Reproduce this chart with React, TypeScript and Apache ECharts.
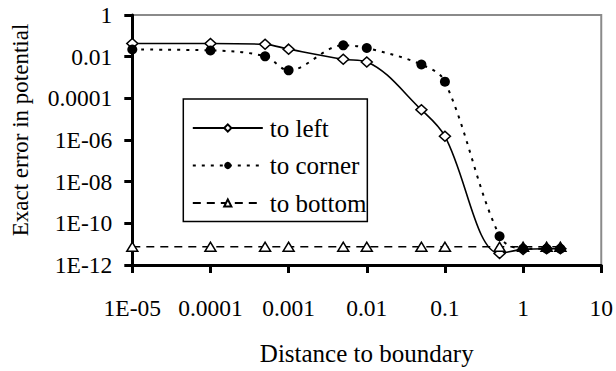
import React, { useEffect, useRef } from "react";
import * as echarts from "echarts";

// Distance from the boundary (x) at which the potential error was sampled
const distances = [1e-5, 1e-4, 5e-4, 1e-3, 5e-3, 1e-2, 5e-2, 0.1, 0.5, 1, 2, 3];

// Exact error in potential for each direction of approach
const toLeft = [0.043, 0.043, 0.039, 0.023, 0.0075, 0.0056, 2.8e-5, 1.5e-6, 3.6e-12, 5.6e-12, 6e-12, 6e-12];
const toCorner = [0.022, 0.02, 0.0104, 0.0022, 0.035, 0.026, 0.0042, 6.3e-4, 2.4e-11, 6e-12, 6e-12, 6e-12];
const toBottom = [7.5e-12, 7.5e-12, 7.5e-12, 7.5e-12, 7.5e-12, 7.5e-12, 7.5e-12, 7.5e-12, 7.5e-12, 7.5e-12, 7.5e-12, 7.5e-12];

const seriesNames = ["to left", "to corner", "to bottom"];

// Tick positions and their labels
const xTickValues = [1e-5, 1e-4, 1e-3, 1e-2, 0.1, 1, 10];
const xTickLabels = ["1E-05", "0.0001", "0.001", "0.01", "0.1", "1", "10"];
const yTickValues = [1, 1e-2, 1e-4, 1e-6, 1e-8, 1e-10, 1e-12];
const yTickLabels = ["1", "0.01", "0.0001", "1E-06", "1E-08", "1E-10", "1E-12"];

const FONT = "Liberation Serif";

const pairs = (ys: number[]) => distances.map((x, i) => [x, ys[i]]);

const labelFor = (vals: number[], labels: string[]) => (v: number) => {
  const e = Math.round(Math.log10(v));
  const i = vals.findIndex((t) => Math.round(Math.log10(t)) === e);
  return i >= 0 ? labels[i] : "";
};

export default function App() {
  const ref = useRef<HTMLDivElement>(null);

  useEffect(() => {
    if (!ref.current) return;
    const chart = echarts.init(ref.current, undefined, { renderer: "svg" });

    const axisCommon = {
      type: "log" as const,
      logBase: 10,
      splitLine: { show: false },
      axisLine: { show: true, lineStyle: { color: "#000", width: 3 } },
      z: 3,
    };

    chart.setOption({
      animation: false,
      backgroundColor: "#fff",
      textStyle: { fontFamily: FONT },
      grid: {
        left: 132.3,
        right: 13.5,
        top: 15,
        bottom: 103.7,
        show: true,
        backgroundColor: "#fff",
        borderColor: "#8a8a8a",
        borderWidth: 2,
        containLabel: false,
      },
      xAxis: {
        ...axisCommon,
        min: 1e-5,
        max: 10,
        splitNumber: 6,
        axisTick: {
          show: true,
          inside: false,
          length: 8,
          customValues: xTickValues,
          lineStyle: { color: "#000", width: 3 },
        },
        axisLabel: {
          margin: 31,
          fontSize: 23.5,
          color: "#000",
          fontFamily: FONT,
          customValues: xTickValues,
          formatter: labelFor(xTickValues, xTickLabels),
        },
        name: "Distance to boundary",
        nameLocation: "middle",
        nameGap: 76,
        nameTextStyle: { fontSize: 25, color: "#000", fontFamily: FONT },
      },
      yAxis: {
        ...axisCommon,
        min: 1e-12,
        max: 1,
        splitNumber: 6,
        axisTick: {
          show: true,
          inside: false,
          length: 8,
          customValues: yTickValues,
          lineStyle: { color: "#000", width: 3 },
        },
        axisLabel: {
          margin: 20,
          fontSize: 23.5,
          color: "#000",
          fontFamily: FONT,
          customValues: yTickValues,
          formatter: labelFor(yTickValues, yTickLabels),
        },
      },
      legend: {
        orient: "vertical",
        left: 183.3,
        top: 99,
        padding: [16.5, 1, 6, 8.5],
        itemWidth: 70,
        itemHeight: 9,
        itemGap: 12.5,
        borderColor: "#000",
        borderWidth: 1.5,
        backgroundColor: "#fff",
        textStyle: { fontSize: 25, color: "#000", fontFamily: FONT, padding: [0, 0, 0, 2] },
        data: seriesNames,
      },
      graphic: [
        {
          type: "text",
          x: 20,
          y: 130,
          rotation: Math.PI / 2,
          style: {
            text: "Exact error in potential",
            fontFamily: FONT,
            fontSize: 23,
            fill: "#000",
            align: "center",
            verticalAlign: "middle",
          },
        },
      ],
      series: [
        {
          name: seriesNames[0],
          type: "line",
          data: pairs(toLeft),
          smooth: 0.35,
          clip: false,
          z: 5,
          symbol: "diamond",
          symbolSize: [11, 10],
          itemStyle: { color: "#fff", borderColor: "#000", borderWidth: 1.5 },
          lineStyle: { color: "#000", width: 1.6, type: "solid" },
        },
        {
          name: seriesNames[1],
          type: "line",
          data: pairs(toCorner),
          smooth: 0.35,
          clip: false,
          z: 6,
          symbol: "circle",
          symbolSize: 10,
          itemStyle: { color: "#000", borderColor: "#000", borderWidth: 0 },
          lineStyle: { color: "#000", width: 2, type: [3, 6] },
        },
        {
          name: seriesNames[2],
          type: "line",
          data: pairs(toBottom),
          clip: false,
          z: 5,
          symbol: "triangle",
          symbolSize: [11, 9],
          itemStyle: { color: "#fff", borderColor: "#000", borderWidth: 1.5 },
          lineStyle: { color: "#000", width: 1.6, type: [8, 6] },
        },
      ],
    });

    return () => chart.dispose();
  }, []);

  return (
    <div
      ref={ref}
      style={{ position: "fixed", left: 0, top: 0, width: 616, height: 371 }}
    />
  );
}
